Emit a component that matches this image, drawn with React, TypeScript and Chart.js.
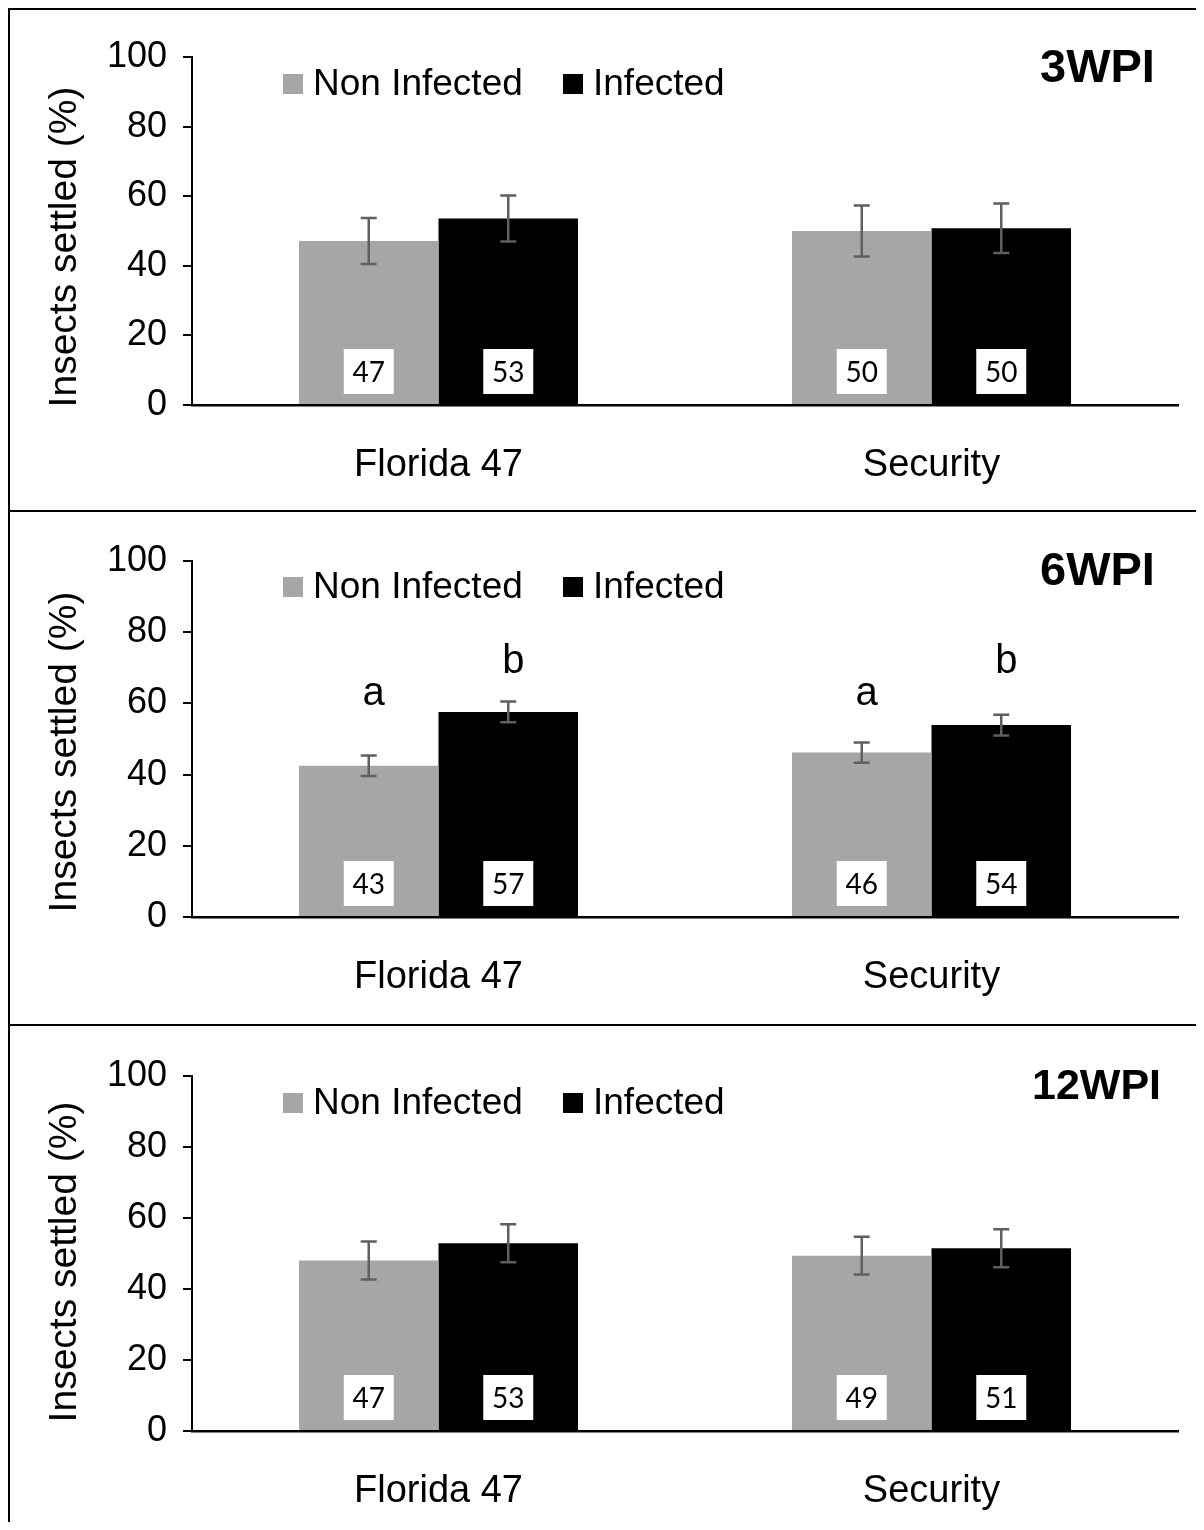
import React, { useEffect, useRef } from 'react';
import { Chart, registerables } from 'chart.js';

Chart.register(...registerables);

// ---------- data ----------
const categories = ['Florida 47', 'Security'];
const seriesNames = ['Non Infected', 'Infected'];
const seriesColors = ['#A6A6A6', '#000000'];
const panelTitles = ['3WPI', '6WPI', '12WPI'];
const yAxisTitle = 'Insects settled (%)';

// 3 weeks post infection
const nonInfected3 = [47.1, 50.0];
const infected3 = [53.6, 50.8];
const nonInfectedErr3 = [6.6, 7.3];
const infectedErr3 = [6.6, 7.1];
const nonInfectedPct3 = ['47', '50'];
const infectedPct3 = ['53', '50'];

// 6 weeks post infection
const nonInfected6 = [42.5, 46.2];
const infected6 = [57.6, 53.9];
const nonInfectedErr6 = [2.9, 2.85];
const infectedErr6 = [2.9, 2.9];
const nonInfectedPct6 = ['43', '46'];
const infectedPct6 = ['57', '54'];
const nonInfectedLetters6 = ['a', 'a'];
const infectedLetters6 = ['b', 'b'];
const letterLevels6 = [59.6, 68.5]; // baseline level (in %) for each series' letters

// 12 weeks post infection
const nonInfected12 = [48.0, 49.4];
const infected12 = [52.9, 51.5];
const nonInfectedErr12 = [5.35, 5.35];
const infectedErr12 = [5.35, 5.35];
const nonInfectedPct12 = ['47', '49'];
const infectedPct12 = ['53', '51'];

// ---------- layout / style ----------
const CANVAS_W = 1194;
const AXIS_FONT = "'Liberation Sans', Arial, sans-serif";

type PanelSpec = {
  title: string;
  titleFont: number;
  titleX: number;
  titleY: number;
  height: number;
  top: number;
  xAxisH: number;
  values: number[][];
  errs: number[][];
  pcts: string[][];
  letters?: string[][];
  letterLevels?: number[];
  yTitleY: number;
  legendY: number;
};

const panels: PanelSpec[] = [
  {
    title: panelTitles[0], titleFont: 47, titleX: 1030, titleY: 59,
    height: 500, top: 47, xAxisH: 105,
    values: [nonInfected3, infected3],
    errs: [nonInfectedErr3, infectedErr3],
    pcts: [nonInfectedPct3, infectedPct3],
    yTitleY: 237, legendY: 74,
  },
  {
    title: panelTitles[1], titleFont: 47, titleX: 1030, titleY: 60,
    height: 512, top: 49, xAxisH: 107,
    values: [nonInfected6, infected6],
    errs: [nonInfectedErr6, infectedErr6],
    pcts: [nonInfectedPct6, infectedPct6],
    letters: [nonInfectedLetters6, infectedLetters6],
    letterLevels: letterLevels6,
    yTitleY: 240, legendY: 75,
  },
  {
    title: panelTitles[2], titleFont: 43, titleX: 1022, titleY: 61,
    height: 496, top: 50, xAxisH: 91,
    values: [nonInfected12, infected12],
    errs: [nonInfectedErr12, infectedErr12],
    pcts: [nonInfectedPct12, infectedPct12],
    yTitleY: 236, legendY: 77,
  },
];

function Panel({ spec }: { spec: PanelSpec }) {
  const ref = useRef<HTMLCanvasElement | null>(null);

  useEffect(() => {
    const canvas = ref.current;
    if (!canvas) return;

    const extras = {
      id: 'extras',
      afterDatasetsDraw(chart: any) {
        const ctx = chart.ctx as CanvasRenderingContext2D;
        const yScale = chart.scales.y;
        const area = chart.chartArea;
        ctx.save();

        // value boxes at the bottom of bars
        spec.pcts.forEach((labels, di) => {
          const meta = chart.getDatasetMeta(di);
          meta.data.forEach((el: any, i: number) => {
            const bw = 50, bh = 45;
            const bx = el.x - bw / 2;
            const by = area.bottom - 11 - bh;
            ctx.fillStyle = '#ffffff';
            ctx.fillRect(bx, by, bw, bh);
            ctx.fillStyle = '#000000';
            ctx.font = "28px Lato, 'Open Sans', sans-serif";
            ctx.textAlign = 'center';
            ctx.textBaseline = 'middle';
            ctx.fillText(labels[i], el.x, by + bh / 2 + 1);
          });
        });

        // error bars
        spec.errs.forEach((errs, di) => {
          const meta = chart.getDatasetMeta(di);
          meta.data.forEach((el: any, i: number) => {
            const v = spec.values[di][i];
            const yt = yScale.getPixelForValue(v + errs[i]);
            const yb = yScale.getPixelForValue(v - errs[i]);
            ctx.strokeStyle = '#5f5f5f';
            ctx.lineWidth = 2.5;
            ctx.beginPath();
            ctx.moveTo(el.x, yt);
            ctx.lineTo(el.x, yb);
            ctx.moveTo(el.x - 8, yt);
            ctx.lineTo(el.x + 8, yt);
            ctx.moveTo(el.x - 8, yb);
            ctx.lineTo(el.x + 8, yb);
            ctx.stroke();
          });
        });

        // significance letters
        if (spec.letters && spec.letterLevels) {
          spec.letters.forEach((lets, di) => {
            const meta = chart.getDatasetMeta(di);
            const y = yScale.getPixelForValue(spec.letterLevels![di]);
            meta.data.forEach((el: any, i: number) => {
              ctx.fillStyle = '#000000';
              ctx.font = `40px ${AXIS_FONT}`;
              ctx.textAlign = 'center';
              ctx.textBaseline = 'alphabetic';
              ctx.fillText(lets[i], el.x + 5, y);
            });
          });
        }

        // legend
        ctx.font = `37px ${AXIS_FONT}`;
        ctx.textAlign = 'left';
        ctx.textBaseline = 'middle';
        const legendXs = [273, 553];
        seriesNames.forEach((name, di) => {
          const lx = legendXs[di];
          ctx.fillStyle = seriesColors[di];
          ctx.fillRect(lx, spec.legendY - 10, 20, 20);
          ctx.fillStyle = '#000000';
          ctx.fillText(name, lx + 30, spec.legendY + 1);
        });

        // panel title
        ctx.font = `bold ${spec.titleFont}px ${AXIS_FONT}`;
        ctx.textAlign = 'left';
        ctx.textBaseline = 'middle';
        ctx.fillStyle = '#000000';
        ctx.fillText(spec.title, spec.titleX, spec.titleY);

        // y-axis title
        ctx.translate(55, spec.yTitleY);
        ctx.rotate(-Math.PI / 2);
        ctx.font = `39px ${AXIS_FONT}`;
        ctx.textAlign = 'center';
        ctx.textBaseline = 'middle';
        ctx.fillText(yAxisTitle, 0, 0);

        ctx.restore();
      },
    };

    const chart = new Chart(canvas, {
      type: 'bar',
      data: {
        labels: categories,
        datasets: seriesNames.map((name, di) => ({
          label: name,
          data: spec.values[di],
          backgroundColor: seriesColors[di],
          borderWidth: 0,
          barPercentage: 1,
          categoryPercentage: 0.566,
        })),
      },
      options: {
        responsive: false,
        animation: false,
        devicePixelRatio: 1,
        layout: { padding: { left: 0, right: 26, top: spec.top, bottom: 0 } },
        plugins: {
          legend: { display: false },
          tooltip: { enabled: false },
          title: { display: false },
        },
        scales: {
          x: {
            grid: { display: true, drawOnChartArea: false, drawTicks: false },
            border: { display: true, color: '#000000', width: 2.5 },
            ticks: {
              color: '#000000',
              font: { family: AXIS_FONT, size: 38 },
              padding: 38,
            },
            afterFit: (s: any) => { s.height = spec.xAxisH; },
          },
          y: {
            min: 0,
            max: 100,
            grid: { drawOnChartArea: false, drawTicks: true, tickLength: 9, color: '#000000', lineWidth: 2 },
            border: { display: true, color: '#000000', width: 2 },
            ticks: {
              stepSize: 20,
              color: '#000000',
              font: { family: AXIS_FONT, size: 36 },
              padding: 16,
            },
            afterFit: (s: any) => { s.width = 182; },
          },
        },
      },
      plugins: [extras],
    } as any);

    return () => chart.destroy();
  }, [spec]);

  return (
    <div
      style={{
        width: CANVAS_W,
        height: spec.height,
        borderTop: '2px solid #000',
        borderLeft: '2px solid #000',
        position: 'relative',
      }}
    >
      <canvas ref={ref} width={CANVAS_W} height={spec.height} style={{ display: 'block' }} />
    </div>
  );
}

export default function App() {
  return (
    <div style={{ width: CANVAS_W + 2, background: '#fff' }}>
      {panels.map((p) => (
        <Panel key={p.title} spec={p} />
      ))}
    </div>
  );
}
